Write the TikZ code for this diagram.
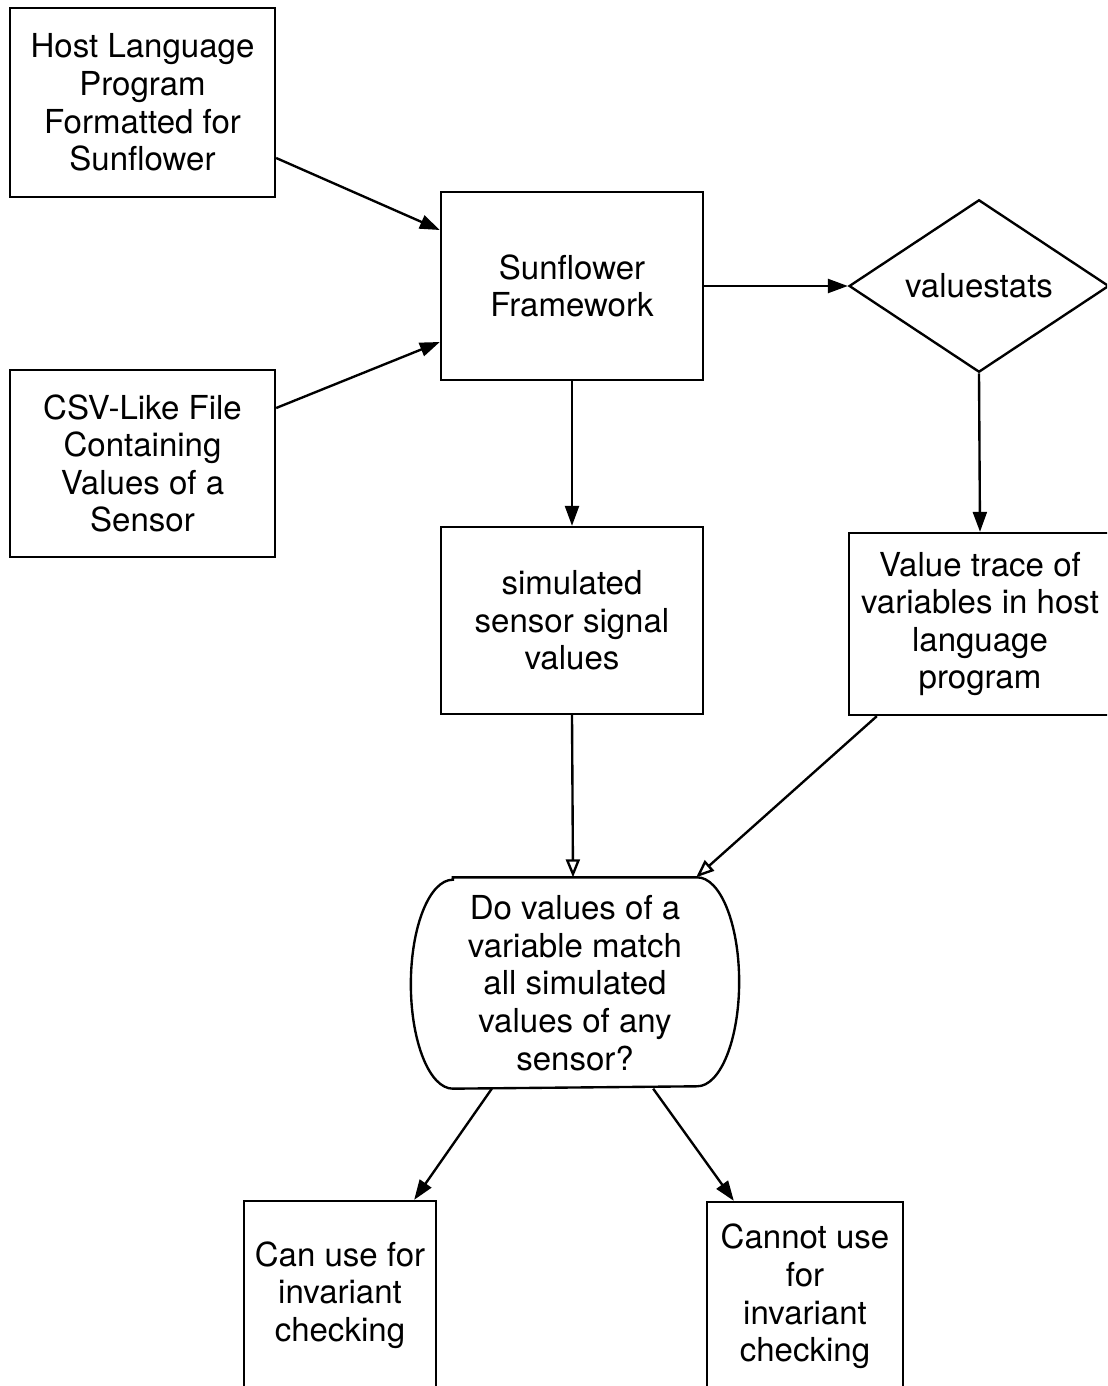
\documentclass[tikz,border=0pt]{standalone}
\usepackage{fontspec}
\setmainfont{TeX Gyre Heros}
\usetikzlibrary{shapes.geometric,arrows.meta}
\begin{document}
\begin{tikzpicture}[x=0.02cm,y=-0.02cm,
  every node/.style={font=\fontsize{18.8}{21.4}\selectfont, align=center, inner sep=0pt, line width=1.35pt},
  box/.style={draw, rectangle},
  decision/.style={draw, diamond, minimum width=5.2cm, minimum height=3.44cm},
  flow/.style={line width=1.35pt, -{Triangle[length=0.4cm,width=0.28cm]}},
  openflow/.style={line width=1.35pt, -{Triangle[open,length=0.36cm,width=0.28cm]}},
]
\useasboundingbox (0,0) rectangle (1107,1386);
\clip (0,0) rectangle (1107,1386);

% input boxes
\node[box, minimum width=5.3cm, minimum height=3.78cm] (host) at (142.5,102.5)
  {Host Language\\Program\\Formatted for\\Sunflower};
\node[box, minimum width=5.3cm, minimum height=3.74cm] (csv) at (142.5,463.5)
  {CSV-Like File\\Containing\\Values of a\\Sensor};

% framework and its outputs
\node[box, minimum width=5.24cm, minimum height=3.76cm] (fw) at (572,286)
  {Sunflower\\Framework};
\node[decision] (vs) at (979,286) {valuestats};
\node[box, minimum width=5.24cm, minimum height=3.74cm] (sim) at (572,620.5)
  {simulated\\sensor signal\\values};
\node[box, minimum width=5.24cm, minimum height=3.64cm] (trace) at (980,624)
  {Value trace of\\variables in host\\language\\program};

% the matching question, flat top and bottom with elliptical sides
\node[minimum width=6.52cm, minimum height=4.18cm] (q) at (575,983)
  {Do values of a\\variable match\\all simulated\\values of any\\sensor?};
\draw[line width=1.35pt] ([xshift=0.84cm]q.north west) -- ([xshift=-0.84cm]q.north east)
  arc[start angle=90, end angle=-90, x radius=0.84cm, y radius=2.09cm]
  -- ([xshift=0.84cm]q.south west)
  arc[start angle=270, end angle=90, x radius=0.84cm, y radius=2.09cm] -- cycle;

% outcomes
\node[box, minimum width=3.84cm, minimum height=3.76cm] (can) at (340,1295)
  {Can use for\\invariant\\checking};
\node[box, minimum width=3.92cm, minimum height=3.78cm] (cannot) at (805,1296.5)
  {Cannot use\\for\\invariant\\checking};

% connectors
\draw[flow] ([yshift=-1.11cm]host.east) -- ([yshift=1.12cm]fw.west);
\draw[flow] ([yshift=1.11cm]csv.east) -- ([yshift=-1.12cm]fw.west);
\draw[flow] (fw.east) -- (vs.west);
\draw[flow] (fw.south) -- (sim.north);
\draw[flow] (vs.south) -- (trace.north);
\draw[openflow] (sim.south) -- ([xshift=-0.04cm]q.north);
\draw[openflow] ([xshift=0.58cm]trace.south west) -- ([xshift=-0.86cm]q.north east);
\draw[flow] ([xshift=1.62cm]q.south west) -- ([xshift=-0.46cm]can.north east);
\draw[flow] ([xshift=-1.72cm]q.south east) -- ([xshift=0.56cm]cannot.north west);
\end{tikzpicture}
\end{document}
